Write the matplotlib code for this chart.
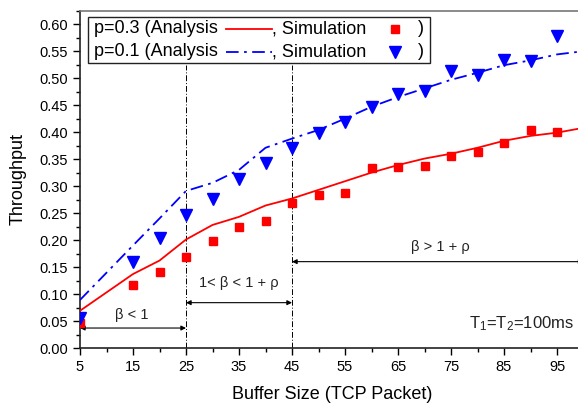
import matplotlib
matplotlib.use("Agg")
import matplotlib.pyplot as plt
from matplotlib.ticker import MultipleLocator, FormatStrFormatter
from matplotlib.lines import Line2D
from matplotlib.patches import Rectangle

plt.rcParams['font.family'] = ['Liberation Sans', 'DejaVu Sans']
plt.rcParams['mathtext.fontset'] = 'custom'
plt.rcParams['mathtext.rm'] = 'Liberation Sans'
plt.rcParams['mathtext.it'] = 'Liberation Sans:italic'

# ---- data ----
buffer_sizes = [5, 15, 20, 25, 30, 35, 40, 45, 50, 55, 60, 65, 70, 75, 80, 85, 90, 95]
analysis_x = [5, 15, 20, 25, 30, 35, 40, 45, 50, 55, 60, 65, 70, 75, 80, 85, 90, 95, 100]
analysis_p03 = [0.069, 0.137, 0.162, 0.201, 0.228, 0.243, 0.264, 0.277, 0.293, 0.309,
                0.325, 0.339, 0.351, 0.360, 0.371, 0.384, 0.393, 0.399, 0.408]
analysis_p01 = [0.089, 0.19, 0.24, 0.291, 0.306, 0.330, 0.371, 0.388, 0.404, 0.425,
                0.447, 0.465, 0.481, 0.497, 0.510, 0.524, 0.533, 0.544, 0.550]
sim_p03 = [0.046, 0.117, 0.140, 0.168, 0.199, 0.225, 0.236, 0.268, 0.283, 0.288,
           0.333, 0.336, 0.338, 0.356, 0.364, 0.380, 0.404, 0.400]
sim_p01 = [0.055, 0.160, 0.204, 0.246, 0.276, 0.314, 0.343, 0.370, 0.399, 0.419,
           0.446, 0.470, 0.476, 0.513, 0.506, 0.533, 0.531, 0.578]
region_bounds = [5, 25, 45, 100]
region_labels = ["β < 1", "1< β < 1 + ρ", "β > 1 + ρ"]
boundary_lines = [25, 45]
x_major_ticks = [5, 15, 25, 35, 45, 55, 65, 75, 85, 95]
x_minor_ticks = [10, 20, 30, 40, 50, 60, 70, 80, 90, 100]

fig = plt.figure(figsize=(5.78, 4.07), dpi=100)
ax = fig.add_axes([80/578, 1-348/407, 503.5/578, 337.3/407])

red = '#FF0000'
blue = '#0000FF'
dashdot = (0, (7, 3, 1.5, 3))

ax.plot(analysis_x, analysis_p03, color=red, lw=1.3, zorder=3)
ax.plot(analysis_x, analysis_p01, color=blue, lw=1.3, ls=dashdot, zorder=3)
ax.plot(buffer_sizes, sim_p03, ls='none', marker='s', ms=6.2, color=red, mec=red, zorder=4)
ax.plot(buffer_sizes, sim_p01, ls='none', marker='v', ms=8, color=blue, mec=blue, zorder=4)

for xb in boundary_lines:
    ax.plot([xb, xb], [0, 0.524], color='black', lw=0.7, ls=(0, (6, 2, 1, 2)), zorder=2)

arrow_y = [0.037, 0.084, 0.160]
label_y = [0.061, 0.12, 0.1876]
label_x = [14.7, 35, 73]
for i in range(3):
    ax.annotate('', xy=(region_bounds[i+1], arrow_y[i]), xytext=(region_bounds[i], arrow_y[i]),
                arrowprops=dict(arrowstyle='<|-|>', color='black', lw=0.8,
                                mutation_scale=7, shrinkA=0, shrinkB=0),
                annotation_clip=False)
    ax.text(label_x[i], label_y[i], region_labels[i], ha='center', va='center', fontsize=10.5,
            color='#222222')

ax.text(98.3, 0.046, r"T$_1$=T$_2$=100ms", ha='right', va='center', fontsize=12, color='#222222')

ax.set_xlim(5, 100)
ax.set_ylim(0, 0.625)
ax.set_xticks(x_major_ticks)
ax.set_xticks(x_minor_ticks, minor=True)
ax.yaxis.set_major_locator(MultipleLocator(0.05))
ax.yaxis.set_minor_locator(MultipleLocator(0.025))
ax.yaxis.set_major_formatter(FormatStrFormatter('%.2f'))
ax.tick_params(which='major', direction='out', length=5, width=1, labelsize=10.5)
ax.tick_params(which='minor', direction='out', length=3, width=1)
ax.tick_params(axis='x', top=False, which='both')
for s in ['left', 'bottom']:
    ax.spines[s].set_linewidth(1.2)
    ax.spines[s].set_color('#222222')
ax.spines['top'].set_color('#777777')
ax.spines['top'].set_linewidth(1.2)
ax.spines['right'].set_visible(False)

ax.set_xlabel('Buffer Size (TCP Packet)', fontsize=13, labelpad=9)
ax.set_ylabel('Throughput', fontsize=13, labelpad=9)

# ---- legend (Origin style) ----
ax.add_patch(Rectangle((0.016, 0.845), 0.679, 0.136, transform=ax.transAxes,
                       facecolor='white', edgecolor='#222222', lw=1.0, zorder=5))
rows = [(0.946, 'p=0.3 (Analysis', red, '-', 's', 6.2),
        (0.878, 'p=0.1 (Analysis', blue, dashdot, 'v', 8)]
for yy, lab, col, ls, mk, ms in rows:
    ax.text(0.028, yy, lab, transform=ax.transAxes, fontsize=13, va='center', ha='left', zorder=6)
    ax.add_line(Line2D([0.289, 0.381], [yy, yy], transform=ax.transAxes, color=col, lw=1.3,
                       ls=ls, zorder=6))
    ax.text(0.381, yy, ', Simulation', transform=ax.transAxes, fontsize=13, va='center',
            ha='left', zorder=6)
    ax.plot([0.626], [yy], transform=ax.transAxes, marker=mk, ms=ms, color=col, ls='none',
            zorder=6, clip_on=False)
    ax.text(0.672, yy, ')', transform=ax.transAxes, fontsize=13, va='center', ha='left', zorder=6)

fig.savefig('out.png', dpi=100)
